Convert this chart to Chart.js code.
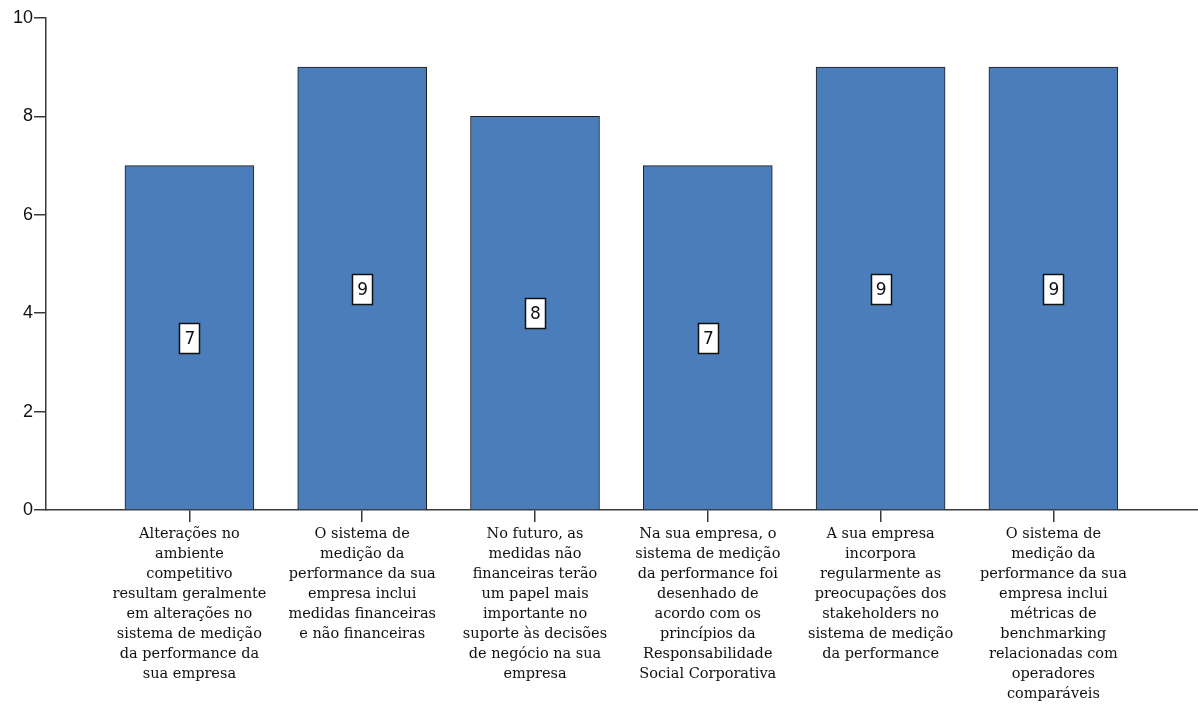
<!DOCTYPE html>
<html>
<head>
<meta charset="utf-8">
<script src="https://cdn.jsdelivr.net/npm/chart.js@4/dist/chart.umd.min.js"></script>
<style>
  html, body { margin: 0; padding: 0; background: #ffffff; }
  #wrap { width: 1198px; height: 704px; position: relative; }
</style>
</head>
<body>
<div id="wrap"><canvas id="c" width="1198" height="704"></canvas></div>
<script>
// Category labels, wrapped into lines as they appear under each bar
const categories = [
  ["Alterações no", "ambiente", "competitivo", "resultam geralmente", "em alterações no", "sistema de medição", "da performance da", "sua empresa"],
  ["O sistema de", "medição da", "performance da sua", "empresa inclui", "medidas financeiras", "e não financeiras"],
  ["No futuro, as", "medidas não", "financeiras terão", "um papel mais", "importante no", "suporte às decisões", "de negócio na sua", "empresa"],
  ["Na sua empresa, o", "sistema de medição", "da performance foi", "desenhado de", "acordo com os", "princípios da", "Responsabilidade", "Social Corporativa"],
  ["A sua empresa", "incorpora", "regularmente as", "preocupações dos", "stakeholders no", "sistema de medição", "da performance"],
  ["O sistema de", "medição da", "performance da sua", "empresa inclui", "métricas de", "benchmarking", "relacionadas com", "operadores", "comparáveis"]
];

// Count of responses per statement
const counts = [7, 9, 8, 7, 9, 9];

// Value-axis ticks
const yTicks = [0, 2, 4, 6, 8, 10];

const barColor = '#4a7dba';
const axisColor = '#3a3a3a';

// Boxed value label drawn at the middle of each bar
const valueBoxes = {
  id: 'valueBoxes',
  afterDatasetsDraw(chart) {
    const ctx = chart.ctx;
    const yScale = chart.scales.y;
    const meta = chart.getDatasetMeta(0);
    ctx.save();
    meta.data.forEach((bar, i) => {
      const v = counts[i];
      const cx = bar.x;
      const cy = yScale.getPixelForValue(v / 2);
      const w = 20, h = 30;
      ctx.fillStyle = '#ffffff';
      ctx.fillRect(Math.round(cx - w / 2) + 0.5, Math.round(cy - h / 2) + 0.5, w, h);
      ctx.strokeStyle = '#111111';
      ctx.lineWidth = 1.5;
      ctx.strokeRect(Math.round(cx - w / 2) + 0.5, Math.round(cy - h / 2) + 0.5, w, h);
      ctx.fillStyle = '#111111';
      ctx.font = '17px "DejaVu Sans"';
      ctx.textAlign = 'center';
      ctx.textBaseline = 'middle';
      ctx.fillText(String(v), cx + 0.5, cy + 1.5);
    });
    ctx.restore();
  }
};

new Chart(document.getElementById('c'), {
  type: 'bar',
  data: {
    datasets: [{
      data: counts.map((v, i) => ({ x: i, y: v })),
      backgroundColor: barColor,
      borderColor: '#1e1e1e',
      borderWidth: 1,
      barThickness: 129
    }]
  },
  options: {
    responsive: false,
    animation: false,
    layout: { padding: { top: 18, right: 0, left: 0, bottom: 0 } },
    plugins: { legend: { display: false }, tooltip: { enabled: false } },
    scales: {
      x: {
        type: 'linear',
        offset: false,
        min: -0.83,
        max: 5.837,
        afterBuildTicks(scale) {
          scale.ticks = categories.map((_, i) => ({ value: i }));
        },
        afterFit(scale) { scale.height = 194; },
        grid: {
          display: true,
          offset: false,
          drawOnChartArea: false,
          drawTicks: true,
          tickLength: 12,
          color: axisColor,
          lineWidth: 1.5
        },
        border: { display: true, color: axisColor, width: 1.5 },
        ticks: {
          autoSkip: false,
          maxRotation: 0,
          minRotation: 0,
          padding: 2,
          color: '#111111',
          font: { family: '"DejaVu Serif"', size: 14.5, lineHeight: '20px' },
          callback: (v) => categories[v]
        }
      },
      y: {
        min: 0,
        max: 10,
        afterBuildTicks(scale) {
          scale.ticks = yTicks.map(v => ({ value: v }));
        },
        afterFit(scale) { scale.width = 46; },
        grid: {
          display: true,
          drawOnChartArea: false,
          drawTicks: true,
          tickLength: 12,
          color: axisColor,
          lineWidth: 1.5
        },
        border: { display: true, color: axisColor, width: 1.5 },
        ticks: {
          padding: 1,
          color: '#111111',
          font: { family: '"Liberation Sans"', size: 18 }
        }
      }
    }
  },
  plugins: [valueBoxes]
});
</script>
</body>
</html>
